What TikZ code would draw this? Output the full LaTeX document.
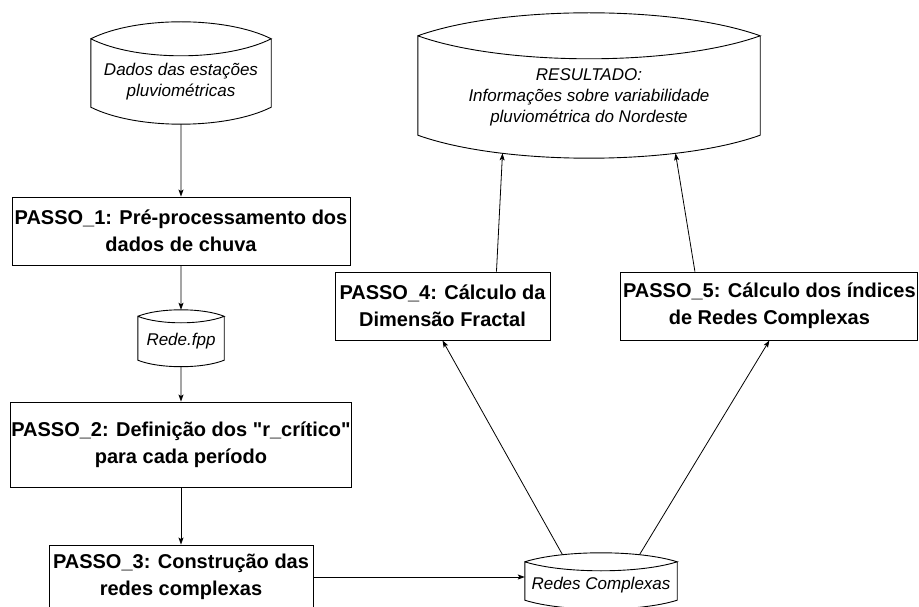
\documentclass[tikz,border=0pt]{standalone}
\usepackage{fontspec}
\setmainfont{Liberation Sans}[Ligatures=TeXOff]
\usetikzlibrary{arrows.meta, positioning, calc}
\tikzset{
    stepbox/.style = {rectangle, draw=black, line width=0.9pt, align=center, inner sep=1pt, font=\fontsize{20}{27}\selectfont\bfseries},
    storage/.style = {rectangle, align=center, inner sep=0pt, font=\fontsize{17}{21}\selectfont\itshape},
    arrow/.style = {line width=0.8pt, -{Stealth[length=7pt, width=5pt, inset=1.5pt]}}
}
% outline of a stored-data shape around node #1, #2 = bow of the curves
\newcommand{\datastore}[2]{%
  \draw[line width=0.9pt] ($(#1.north west)+(0,#2)$)
    .. controls ($(#1.north west)!.25!(#1.north east)+(0,7*#2/3)$) and ($(#1.north west)!.75!(#1.north east)+(0,7*#2/3)$)
    .. ($(#1.north east)+(0,#2)$) coordinate[pos=.27] (#1-t1) coordinate[pos=.5] (#1-top) coordinate[pos=.73] (#1-t3)
    .. controls ($(#1.north west)!.75!(#1.north east)+(0,-#2/3)$) and ($(#1.north west)!.25!(#1.north east)+(0,-#2/3)$)
    .. ($(#1.north west)+(0,#2)$)
    -- (#1.south west)
    .. controls ($(#1.south west)!.25!(#1.south east)+(0,-4*#2/3)$) and ($(#1.south west)!.75!(#1.south east)+(0,-4*#2/3)$)
    .. (#1.south east) coordinate[pos=.27] (#1-b1) coordinate[pos=.5] (#1-bot) coordinate[pos=.73] (#1-b3)
    -- ($(#1.north east)+(0,#2)$);
}

\begin{document}
\begin{tikzpicture}[x=1pt, y=-1pt]
\clip (0,0) rectangle (919,607);

% left column
\node[storage, minimum width=180pt, minimum height=51pt] (dados) at (181,81.5) {Dados das estações\\pluviométricas};
\node[stepbox, minimum width=338pt, minimum height=68pt] (passo1) at (181,231) {PASSO\_1: Pré-processamento dos\\dados de chuva};
\node[storage, minimum width=86pt, minimum height=37pt] (rede) at (181,341.5) {Rede.fpp};
\node[stepbox, minimum width=338pt, minimum height=85pt] (passo2) at (181,444.5) {PASSO\_2: Definição dos "r\_crítico"\\para cada período};
\node[stepbox, minimum width=264pt, minimum height=64pt] (passo3) at (181,577) {PASSO\_3: Construção das\\redes complexas};

% right part
\node[storage, minimum width=152pt, minimum height=29pt] (rc) at (601,585.5) {Redes Complexas};
\node[stepbox, minimum width=215pt, minimum height=68pt] (passo4) at (442.5,306) {PASSO\_4: Cálculo da\\Dimensão Fractal};
\node[stepbox, minimum width=297pt, minimum height=68pt, right=70pt of passo4] (passo5) {PASSO\_5: Cálculo dos índices\\de Redes Complexas};
\node[storage, minimum width=342pt, minimum height=76pt] (res) at (589,97) {RESULTADO:\\Informações sobre variabilidade\\pluviométrica do Nordeste};

\datastore{dados}{17pt}
\datastore{rede}{6.5pt}
\datastore{rc}{9pt}
\datastore{res}{23pt}

\draw[arrow] (dados-bot) -- (passo1.north);
\draw[arrow] (passo1.south) -- (rede-top);
\draw[arrow] (rede-bot) -- (passo2.north);
\draw[arrow] (passo2.south) -- (passo3.north);
\draw[arrow] (passo3.east) -- (passo3.east -| rc.west);
\draw[arrow] (rc-t1) -- (passo4.south);
\draw[arrow] (rc-t3) -- (passo5.south);
\draw[arrow] ($(passo4.north west)!.75!(passo4.north east)$) -- (res-b1);
\draw[arrow] ($(passo5.north west)!.25!(passo5.north east)$) -- (res-b3);
\end{tikzpicture}
\end{document}
